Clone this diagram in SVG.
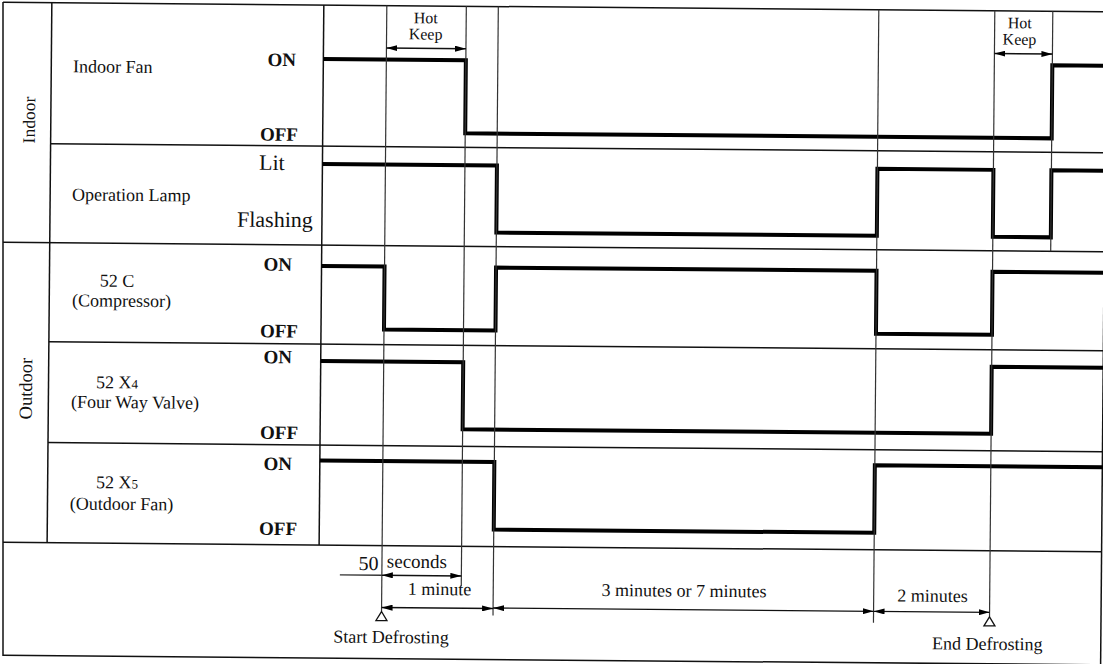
<svg xmlns="http://www.w3.org/2000/svg" width="1103" height="664" viewBox="0 0 1103 664">
<defs>
<marker id="ah" viewBox="0 0 11 6" refX="11" refY="3" markerWidth="11" markerHeight="6" markerUnits="userSpaceOnUse" orient="auto-start-reverse"><path d="M0,0 L11,3 L0,6 z" fill="#000"/></marker>
<style>
.t{font-family:"Liberation Serif","Times New Roman",serif;fill:#111}
.r{font-size:18px}
.b{font-size:19px;font-weight:bold}
.grid{stroke:#111;stroke-width:1.5;fill:none}
.vl{stroke:#333;stroke-width:1.2;fill:none}
.sig{stroke:#000;stroke-width:4;fill:none;stroke-linejoin:miter}
.dim{stroke:#111;stroke-width:1.4;fill:none;marker-start:url(#ah);marker-end:url(#ah)}
.tri{fill:#fff;stroke:#111;stroke-width:1.3}
</style>
</defs>
<rect width="1103" height="664" fill="#fff"/>
<line id="left-border" x1="3" y1="2" x2="3" y2="656" class="grid"/>
<g transform="rotate(0.5 550 330)">
  <g id="frame">
    <line x1="0.2" y1="7" x2="1103.5" y2="7" class="grid"/>
    <line x1="2.3" y1="247" x2="1103.5" y2="247" class="grid"/>
    <line x1="4.9" y1="547" x2="1103.5" y2="547" class="grid"/>
    <line x1="5.9" y1="660" x2="1103.5" y2="660" class="grid"/>
    <line x1="49" y1="148" x2="1103.5" y2="148" class="grid"/>
    <line x1="49" y1="346" x2="1103.5" y2="346" class="grid"/>
    <line x1="49" y1="447" x2="1103.5" y2="447" class="grid"/>
    <line x1="49" y1="7" x2="49" y2="547" class="grid"/>
    <line x1="321" y1="7" x2="321" y2="547" class="grid"/>
    <line x1="1103.5" y1="7" x2="1103.5" y2="660" class="grid"/>
  </g>
  <g id="group-labels" class="t">
    <text transform="translate(33.2 124.6) rotate(-90)" text-anchor="middle" style="font-size:17.5px">Indoor</text>
    <text transform="translate(32.5 393.1) rotate(-90)" text-anchor="middle" style="font-size:18.5px">Outdoor</text>
  </g>
  <g id="indoor-fan">
    <text class="t r" x="70.8" y="76.5">Indoor Fan</text>
    <text class="t b" x="293.7" y="68.4" text-anchor="end">ON</text>
    <text class="t b" x="296.3" y="143.1" text-anchor="end">OFF</text>
    <polyline class="sig" points="321,61 463.5,61 463.5,134 1050,134 1050,61 1110,61"/>
  </g>
  <g id="operation-lamp">
    <text class="t r" x="70.9" y="204.6">Operation Lamp</text>
    <text class="t" x="257.6" y="172.4" style="font-size:22px">Lit</text>
    <text class="t" x="236.1" y="229.4" style="font-size:22px">Flashing</text>
    <polyline class="sig" points="321,166 495.5,166 495.5,233 876,233 876,166 992,166 992,233 1050,233 1050,166 1110,166"/>
  </g>
  <g id="compressor">
    <text class="t r" x="116.6" y="290.5" text-anchor="middle">52 C</text>
    <text class="t r" x="121.3" y="310.4" text-anchor="middle">(Compressor)</text>
    <text class="t b" x="291.5" y="273.1" text-anchor="end">ON</text>
    <text class="t b" x="298" y="339.7" text-anchor="end">OFF</text>
    <polyline class="sig" points="321,268 384,268 384,331 495.5,331 495.5,268 876,268 876,331 992,331 992,268 1110,268"/>
  </g>
  <g id="four-way-valve">
    <text class="t r" x="117.5" y="392.1" text-anchor="middle">52 X<tspan style="font-size:13px">4</tspan></text>
    <text class="t r" x="135.7" y="411.9" text-anchor="middle">(Four Way Valve)</text>
    <text class="t b" x="292.3" y="365.7" text-anchor="end">ON</text>
    <text class="t b" x="299" y="441.4" text-anchor="end">OFF</text>
    <polyline class="sig" points="321,363 463.5,363 463.5,430 992,430 992,363 1110,363"/>
  </g>
  <g id="outdoor-fan">
    <text class="t r" x="118.4" y="492.1" text-anchor="middle">52 X<tspan style="font-size:13px">5</tspan></text>
    <text class="t r" x="123.1" y="513.7" text-anchor="middle">(Outdoor Fan)</text>
    <text class="t b" x="293.2" y="472.4" text-anchor="end">ON</text>
    <text class="t b" x="298.8" y="537.4" text-anchor="end">OFF</text>
    <polyline class="sig" points="321,462.5 495.5,462.5 495.5,530 876,530 876,462.5 1110,462.5"/>
  </g>
  <g id="connectors">
    <line class="vl" x1="384" y1="7" x2="384" y2="613"/>
    <line class="vl" x1="463.5" y1="7" x2="463.5" y2="587"/>
    <line class="vl" x1="495.5" y1="7" x2="495.5" y2="616"/>
    <line class="vl" x1="876" y1="7" x2="876" y2="620"/>
    <line class="vl" x1="992" y1="7" x2="992" y2="613"/>
    <line class="vl" x1="1050" y1="7" x2="1050" y2="247"/>
    <line class="dim" x1="384" y1="49.5" x2="463.5" y2="49.5"/>
    <line class="dim" x1="992" y1="49.7" x2="1050" y2="49.7"/>
    <line class="vl" x1="342" y1="576.7" x2="384" y2="576.7" style="stroke-width:1.4"/>
    <line class="dim" x1="384" y1="576.7" x2="463.5" y2="576.7"/>
    <line class="dim" x1="384" y1="609" x2="495.5" y2="609"/>
    <line class="dim" x1="495.5" y1="608.5" x2="876" y2="608.5"/>
    <line class="dim" x1="876" y1="608.5" x2="992" y2="608.5"/>
    <path class="tri" d="M384,613 L389.5,622 L378.5,622 Z"/>
    <path class="tri" d="M992,613 L997.5,622 L986.5,622 Z"/>
  </g>
  <g id="hot-keep-1" class="t" style="font-size:16px" text-anchor="middle">
    <text x="423" y="24.4">Hot</text>
    <text x="423" y="40.6">Keep</text>
  </g>
  <g id="hot-keep-2" class="t" style="font-size:16px" text-anchor="middle">
    <text x="1017" y="24.2">Hot</text>
    <text x="1017" y="40.6">Keep</text>
  </g>
  <g id="timing-labels" class="t r" text-anchor="middle">
    <text x="370.6" y="571.6" style="font-size:20px">50</text>
    <text x="419" y="569" style="font-size:19px">seconds</text>
    <text x="441.8" y="596">1 minute</text>
    <text x="686.3" y="595.5">3 minutes or 7 minutes</text>
    <text x="934.8" y="598.4">2 minutes</text>
    <text x="393.7" y="644.4">Start Defrosting</text>
    <text x="990" y="646">End Defrosting</text>
  </g>
</g>
</svg>
